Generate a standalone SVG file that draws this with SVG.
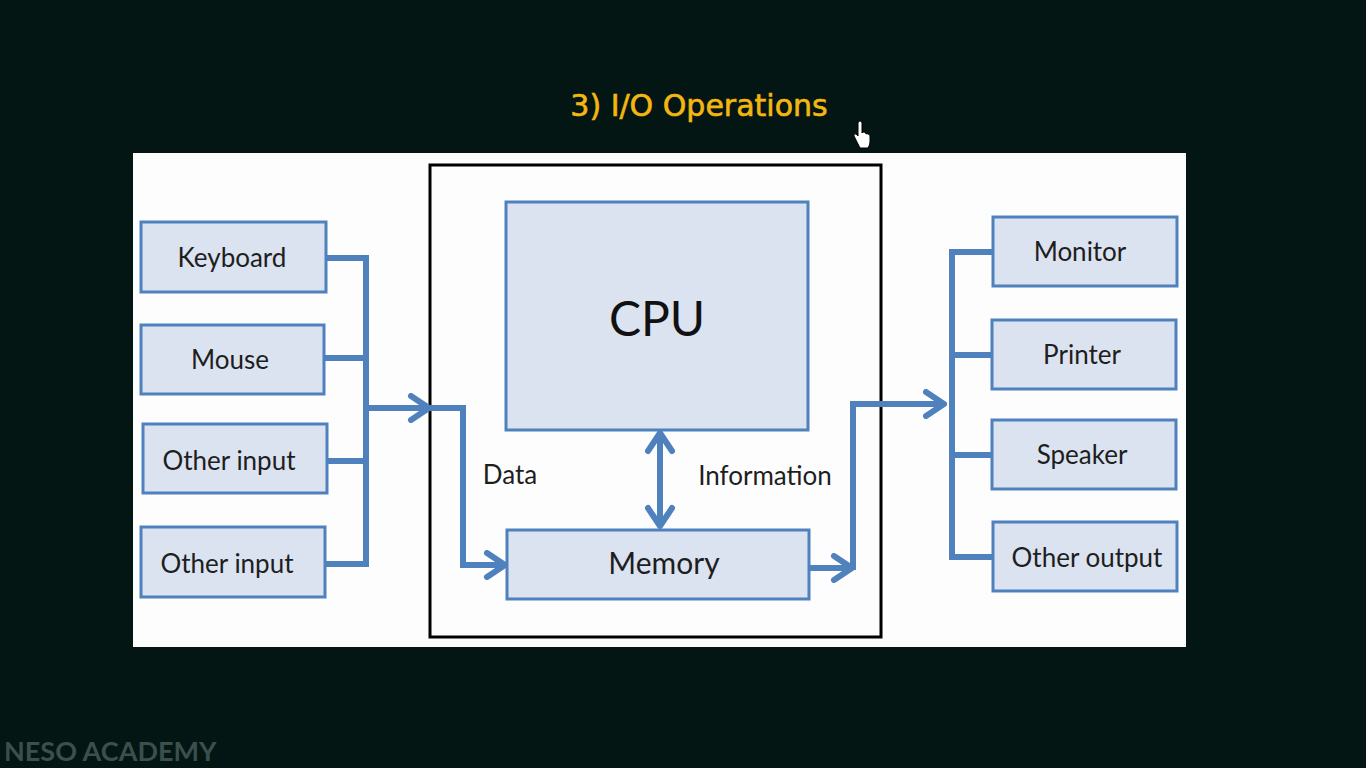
<svg xmlns="http://www.w3.org/2000/svg" width="1366" height="768" viewBox="0 0 1366 768">
<style>
.box{fill:#dbe2f0;stroke:#4f81bd;stroke-width:3}
.lbl{font-family:Lato,"Open Sans",sans-serif;font-size:26px;fill:#1e1e1e;text-anchor:middle}
.wire{fill:none;stroke:#4f81bd;stroke-width:6;stroke-linejoin:miter}
.arr{fill:none;stroke:#4f81bd;stroke-width:6;marker-end:url(#chev)}
</style>
<defs>
<marker id="chev" viewBox="0 0 26 30" refX="23" refY="15" markerUnits="userSpaceOnUse" markerWidth="26" markerHeight="30" orient="auto-start-reverse">
<path d="M4,3 L22,15 L4,27" fill="none" stroke="#4f81bd" stroke-width="6" stroke-linecap="round" stroke-linejoin="round"/>
</marker>
</defs>
<rect width="1366" height="768" fill="#031614"/>
<text x="699" y="116" font-family="'Comic Sans MS','DejaVu Sans',sans-serif" font-size="30" font-weight="500" stroke="#f4b710" stroke-width="0.6" fill="#f4b710" text-anchor="middle">3) I/O Operations</text>
<rect x="133" y="153" width="1053" height="494" fill="#fdfdfe"/>
<rect x="430" y="165" width="451" height="472" fill="none" stroke="#000" stroke-width="3"/>
<g id="connectors">
<path class="wire" d="M326,258 H366 M324,358 H366 M327,461 H366 M325,564 H366 M366,255 V567"/>
<path class="arr" d="M366,408 H430"/>
<path class="arr" d="M428,408 H463 V565 H506"/>
<path class="arr" d="M809,568 H853"/>
<path class="arr" d="M853,570 V404 H945"/>
<path class="wire" d="M993,252 H952 M992,355 H952 M992,455 H952 M993,557 H952 M952,249 V560"/>
<path class="arr" d="M660,480 V432"/>
<path class="arr" d="M660,480 V527"/>
</g>
<g id="keyboard"><rect class="box" x="141" y="222" width="185" height="70"/><text class="lbl" x="232" y="267">Keyboard</text></g>
<g id="mouse"><rect class="box" x="141" y="325" width="183" height="69"/><text class="lbl" x="230" y="369">Mouse</text></g>
<g id="input1"><rect class="box" x="143" y="424" width="184" height="69"/><text class="lbl" x="229" y="470">Other input</text></g>
<g id="input2"><rect class="box" x="141" y="527" width="184" height="70"/><text class="lbl" x="227" y="573">Other input</text></g>
<g id="cpu"><rect class="box" x="506" y="202" width="302" height="228"/><text x="657" y="336" font-family="Lato,'Open Sans',sans-serif" font-size="48" fill="#111" text-anchor="middle">CPU</text></g>
<g id="memory"><rect class="box" x="507" y="530" width="302" height="69"/><text x="664" y="574" font-family="Lato,'Open Sans',sans-serif" font-size="30" fill="#1e1e1e" text-anchor="middle">Memory</text></g>
<text class="lbl" x="510" y="484">Data</text>
<text class="lbl" x="765" y="485">Information</text>
<g id="monitor"><rect class="box" x="993" y="217" width="184" height="69"/><text class="lbl" x="1080" y="261">Monitor</text></g>
<g id="printer"><rect class="box" x="992" y="320" width="184" height="69"/><text class="lbl" x="1082" y="364">Printer</text></g>
<g id="speaker"><rect class="box" x="992" y="420" width="184" height="69"/><text class="lbl" x="1082" y="464">Speaker</text></g>
<g id="output"><rect class="box" x="993" y="522" width="184" height="69"/><text class="lbl" x="1087" y="567">Other output</text></g>
<text x="4" y="761" font-family="Lato,'Open Sans',sans-serif" font-size="27" font-weight="bold" fill="#3b4f4c">NESO ACADEMY</text>
<path d="M858,123 v13 l-2,-2 q-3,-1 -2,2 l6,12 h8 q2,-3 2,-6 v-6 q0,-2 -2,-2 q-1,-1 -2,0 q0,-2 -2,-2 q-2,0 -2,1 v-10 q0,-2 -2,-2 q-2,0 -2,2 z" fill="#fff" stroke="#000" stroke-width="1"/>
</svg>
